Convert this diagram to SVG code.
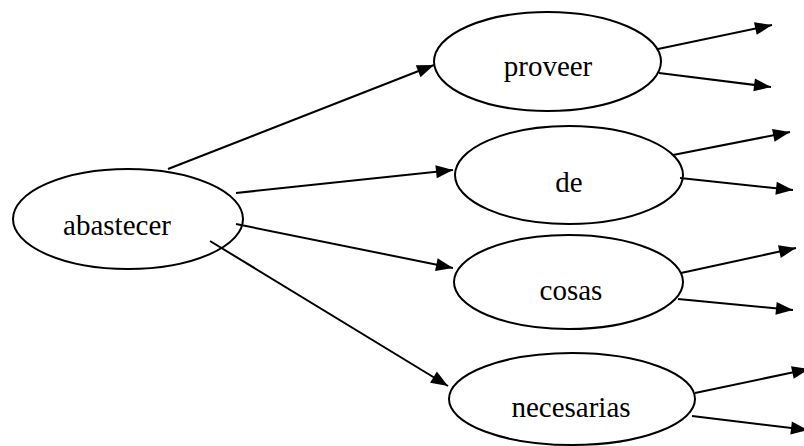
<svg xmlns="http://www.w3.org/2000/svg" width="804" height="446" viewBox="0 0 804 446">
  <style>
    .node ellipse { fill: #ffffff; stroke: #000000; stroke-width: 2; }
    .node text { font-family: "Liberation Serif", "Times New Roman", "DejaVu Serif", serif; font-size: 29px; fill: #000000; text-anchor: middle; }
    .edges line { stroke: #000000; stroke-width: 2; marker-end: url(#arrow); }
  </style>
  <defs>
    <marker id="arrow" markerUnits="userSpaceOnUse" markerWidth="18" markerHeight="14" refX="17" refY="6.5" orient="auto" overflow="visible">
      <path d="M0,0 L17,6.5 L0,13 z" fill="#000000"/>
    </marker>
  </defs>
  <rect width="804" height="446" fill="#ffffff"/>

  <g id="node-abastecer" class="node">
    <ellipse cx="128" cy="219" rx="115" ry="50"/>
    <text x="117" y="235" font-family="Liberation Serif, serif">abastecer</text>
  </g>
  <g id="node-proveer" class="node">
    <ellipse cx="547.5" cy="61.5" rx="113.5" ry="49.5"/>
    <text x="548" y="76" font-family="Liberation Serif, serif">proveer</text>
  </g>
  <g id="node-de" class="node">
    <ellipse cx="569" cy="175" rx="114" ry="49"/>
    <text x="569" y="192" font-family="Liberation Serif, serif">de</text>
  </g>
  <g id="node-cosas" class="node">
    <ellipse cx="568.5" cy="282" rx="114.5" ry="47"/>
    <text x="571" y="300" font-family="Liberation Serif, serif">cosas</text>
  </g>
  <g id="node-necesarias" class="node">
    <ellipse cx="572" cy="399" rx="123" ry="46"/>
    <text x="571" y="417" font-family="Liberation Serif, serif">necesarias</text>
  </g>

  <g id="connectors" class="edges">
    <!-- from abastecer -->
    <line x1="168" y1="169" x2="434" y2="65"/>
    <line x1="236" y1="193" x2="453" y2="170"/>
    <line x1="236" y1="224" x2="453" y2="268"/>
    <line x1="210" y1="241" x2="448" y2="386"/>
    <!-- outgoing from proveer -->
    <line x1="658" y1="49" x2="772" y2="25"/>
    <line x1="659" y1="73" x2="771" y2="87"/>
    <!-- outgoing from de -->
    <line x1="673" y1="155" x2="790" y2="132"/>
    <line x1="680" y1="178" x2="793" y2="190"/>
    <!-- outgoing from cosas -->
    <line x1="681" y1="273" x2="796" y2="248"/>
    <line x1="678" y1="299" x2="793" y2="310"/>
    <!-- outgoing from necesarias -->
    <line x1="695" y1="393" x2="809" y2="369"/>
    <line x1="692" y1="416" x2="808" y2="430"/>
  </g>
</svg>
